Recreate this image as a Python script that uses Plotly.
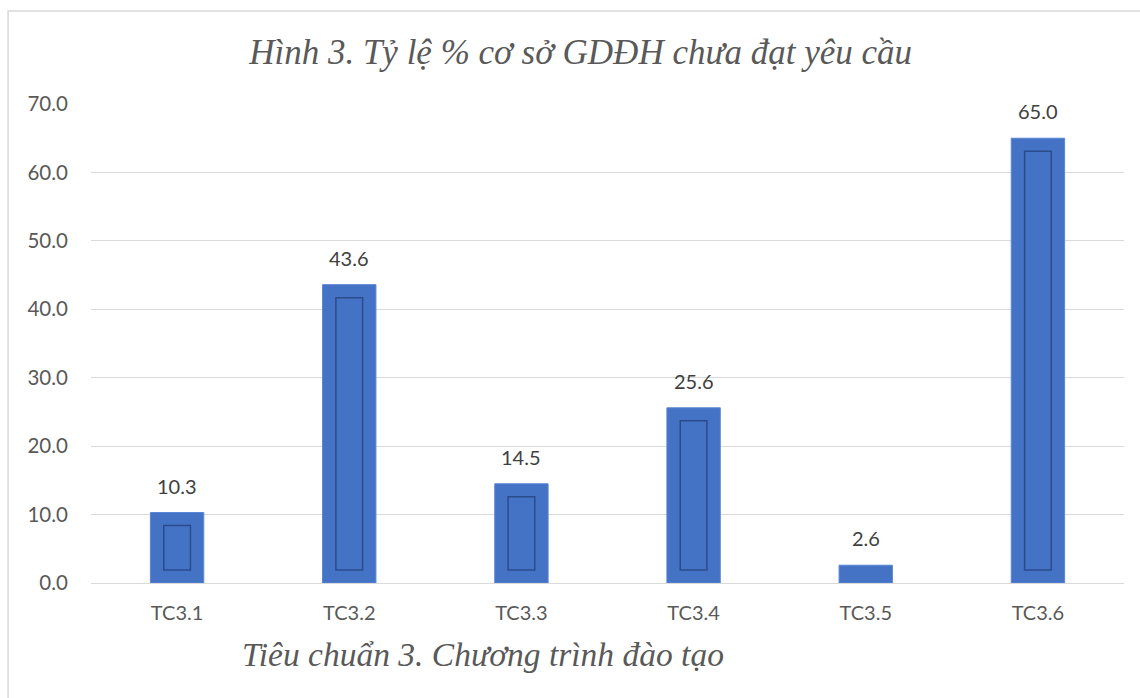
import plotly.graph_objects as go

categories = ["TC3.1", "TC3.2", "TC3.3", "TC3.4", "TC3.5", "TC3.6"]
values = [10.3, 43.6, 14.5, 25.6, 2.6, 65.0]
y_ticks = [0, 10, 20, 30, 40, 50, 60, 70]
y_tick_labels = ["0.0", "10.0", "20.0", "30.0", "40.0", "50.0", "60.0", "70.0"]
title_text = "Hình 3. Tỷ lệ % cơ sở GDĐH chưa đạt yêu cầu"
xtitle_text = "Tiêu chuẩn 3. Chương trình đào tạo"

BAR = "#4472C4"
INSET = 1.9
inner_base = [INSET if v > 2 * INSET else None for v in values]
inner_h = [v - 2 * INSET if v > 2 * INSET else None for v in values]

fig = go.Figure()
fig.add_trace(go.Bar(
    x=categories, y=values, width=0.31,
    marker=dict(color=BAR, line=dict(color="#5A86D6", width=1)),
    hoverinfo="skip", showlegend=False,
))
fig.add_trace(go.Bar(
    x=categories, y=inner_h, base=inner_base, width=0.155,
    marker=dict(color="rgba(0,0,0,0)", line=dict(color="#2B4C8C", width=1.5)),
    hoverinfo="skip", showlegend=False,
))

for c, v in zip(categories, values):
    fig.add_annotation(
        x=c, y=v, text=f"{v:.1f}", showarrow=False,
        yanchor="bottom", yshift=13,
        font=dict(family="Lato", size=20, color="#404040"),
    )

fig.add_annotation(
    xref="paper", yref="paper", x=0.144, y=-0.150,
    xanchor="left", yanchor="middle", text=xtitle_text, showarrow=False,
    font=dict(family="Liberation Serif", size=33.5, color="#595959", style="italic"),
)

fig.add_shape(
    type="rect", xref="paper", yref="paper",
    x0=-0.0803, x1=1.03, y0=-0.27, y1=1.194,
    line=dict(color="#D9D9D9", width=1.5), fillcolor="rgba(0,0,0,0)", layer="below",
)

fig.update_layout(
    width=1140, height=698,
    margin=dict(l=91, r=16, t=104, b=115),
    paper_bgcolor="white", plot_bgcolor="white",
    barmode="overlay",
    title=dict(
        text=title_text, x=0.474, xanchor="center", y=1 - 52 / 698, yanchor="middle",
        xref="paper", yref="container",
        font=dict(family="Liberation Serif", size=35, color="#595959", style="italic"),
    ),
    xaxis=dict(
        showgrid=False, showline=True, linecolor="#D9D9D9", linewidth=1,
        ticks="outside", ticklen=12, tickcolor="rgba(0,0,0,0)",
        tickfont=dict(family="Lato", size=20, color="#595959"),
    ),
    yaxis=dict(
        range=[0, 70], tickvals=y_ticks, ticktext=y_tick_labels,
        showgrid=True, gridcolor="#D9D9D9", gridwidth=1,
        zeroline=False, showline=False,
        ticks="outside", ticklen=18, tickcolor="rgba(0,0,0,0)",
        tickfont=dict(family="Lato", size=20.5, color="#595959"),
    ),
)

fig.write_html(
    "out.html",
    config={"displayModeBar": False},
    post_script="document.body.style.margin='0';document.body.style.overflow='hidden';",
)
